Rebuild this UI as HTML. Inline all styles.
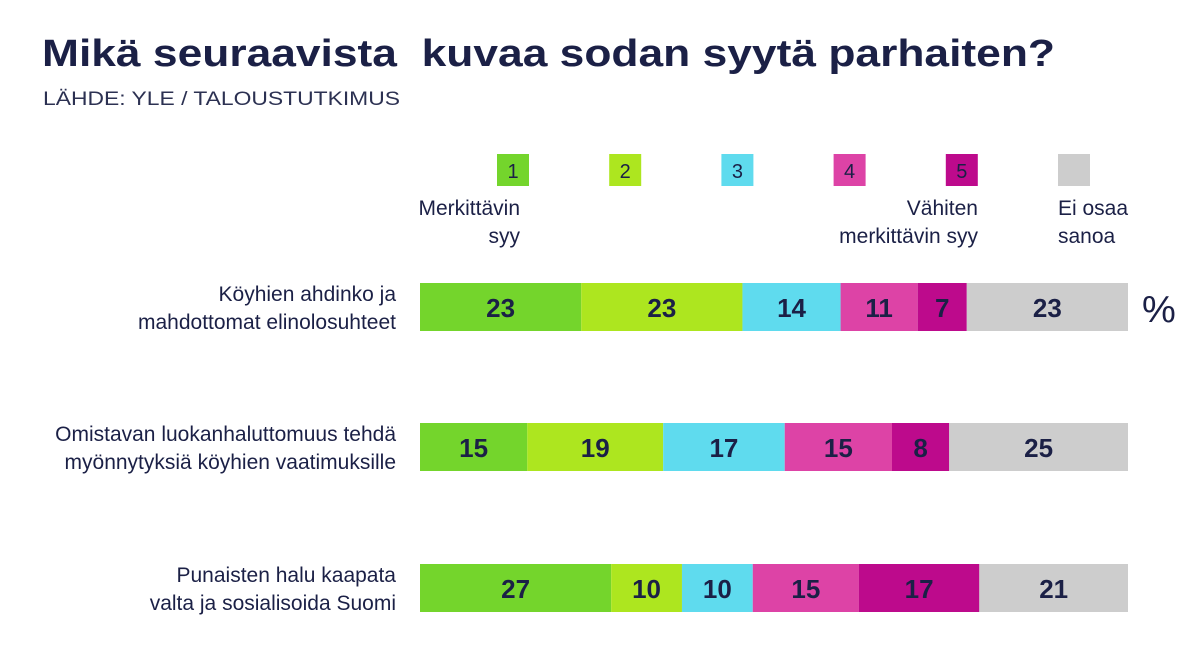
<!DOCTYPE html>
<html><head><meta charset="utf-8"><style>
body{margin:0;width:1199px;height:655px;background:#fff;overflow:hidden;font-family:"Liberation Sans",sans-serif;color:#1b2046}
svg text{font-family:"Liberation Sans",sans-serif}
</style></head><body>
<svg width="1199" height="655">
<text x="42" y="66" font-size="38" font-weight="bold" fill="#1b2046" textLength="1013" lengthAdjust="spacingAndGlyphs">Mikä seuraavista&#160; kuvaa sodan syytä parhaiten?</text>
<text x="43" y="105" font-size="19" fill="#2c3152" textLength="357" lengthAdjust="spacingAndGlyphs">LÄHDE: YLE / TALOUSTUTKIMUS</text>
<g id="legend"></g>
<text x="520" y="215" font-size="21" text-anchor="end" fill="#1b2046"><tspan x="520">Merkittävin</tspan><tspan x="520" dy="28">syy</tspan></text>
<text x="978" y="215" font-size="21" text-anchor="end" fill="#1b2046"><tspan x="978">Vähiten</tspan><tspan x="978" dy="28">merkittävin syy</tspan></text>
<text x="1058" y="215" font-size="21" fill="#1b2046"><tspan x="1058">Ei osaa</tspan><tspan x="1058" dy="28">sanoa</tspan></text>
<text x="1142" y="322" font-size="38" fill="#1b2046">%</text>
<g id="bars"></g>
</svg>
<script>
const categories=[["Köyhien ahdinko ja","mahdottomat elinolosuhteet"],["Omistavan luokanhaluttomuus tehdä","myönnytyksiä köyhien vaatimuksille"],["Punaisten halu kaapata","valta ja sosialisoida Suomi"]];
const seriesNames=["1","2","3","4","5",""];
const row1=[23,23,14,11,7,23];
const row2=[15,19,17,15,8,25];
const row3=[27,10,10,15,17,21];
const rows=[row1,row2,row3];
const colors=["#74d52c","#ade61f","#5fdbee","#dd43a6","#bd0a8c","#cdcdcd"];
const NS="http://www.w3.org/2000/svg";
const x0=420,x1=1128,barH=48,rowY=[283,423,564];
const bars=document.getElementById('bars');
function mk(t,a){const e=document.createElementNS(NS,t);for(const k in a)e.setAttribute(k,a[k]);return e;}
rows.forEach((vals,r)=>{
  const tot=vals.reduce((a,b)=>a+b,0);
  const sx=v=>v/tot*(x1-x0);
  let cx=x0;const y=rowY[r];
  const lab=mk('text',{x:396,y:y+18,'font-size':21,'text-anchor':'end',fill:'#1b2046'});
  
  
  categories[r].forEach((l,i)=>{const t=mk('tspan',{x:396,dy:i?28:0});t.textContent=l;lab.appendChild(t);});
  bars.appendChild(lab);
  vals.forEach((v,i)=>{
    const w=sx(v);
    const rc=mk('rect',{x:cx,y:y,width:w,height:barH,fill:colors[i]});
    
    
    bars.appendChild(rc);
    const t=mk('text',{x:cx+w/2,y:y+34,'font-size':26,'font-weight':'bold','text-anchor':'middle',fill:'#1b2046'});
    
    
    t.textContent=v;bars.appendChild(t);
    cx+=w;
  });
});
const lg=document.getElementById('legend');
seriesNames.forEach((n,i)=>{
  const x=497+i*112.2;
  const rc=mk('rect',{x:x,y:154,width:32,height:32,fill:colors[i]});
  
  
  lg.appendChild(rc);
  const t=mk('text',{x:x+16,y:178,'font-size':20,'text-anchor':'middle',fill:'#1b2046'});
  
  
  t.textContent=n;lg.appendChild(t);
});
</script>
</body></html>
